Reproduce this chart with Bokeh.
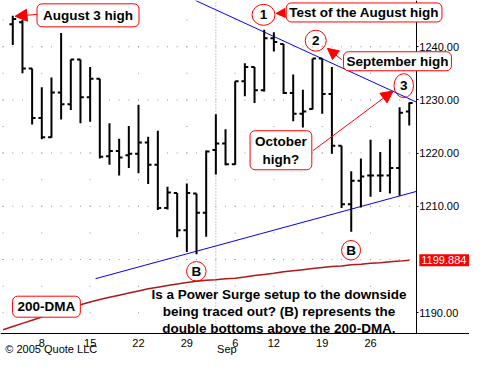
import numpy as np
from bokeh.plotting import figure
from bokeh.models import (Range1d, FixedTicker, NumeralTickFormatter, Label,
                          Arrow, NormalHead)
from bokeh.embed import file_html
from bokeh.resources import INLINE

# ---------------- data (S&P 500 daily, Aug 3 - Sep 30 2005) ----
dates = ["Aug 3", "Aug 4", "Aug 5", "Aug 8", "Aug 9", "Aug 10", "Aug 11", "Aug 12",
         "Aug 15", "Aug 16", "Aug 17", "Aug 18", "Aug 19", "Aug 22", "Aug 23",
         "Aug 24", "Aug 25", "Aug 26", "Aug 29", "Aug 30", "Aug 31", "Sep 1",
         "Sep 2", "Sep 6", "Sep 7", "Sep 8", "Sep 9", "Sep 12", "Sep 13", "Sep 14",
         "Sep 15", "Sep 16", "Sep 19", "Sep 20", "Sep 21", "Sep 22", "Sep 23",
         "Sep 26", "Sep 27", "Sep 28", "Sep 29", "Sep 30"]
opens = [1244.2, 1244.6, 1235.9, 1226.6, 1223.0, 1231.4, 1229.2, 1237.6, 1230.5,
         1234.0, 1219.4, 1220.4, 1219.6, 1219.9, 1222.0, 1217.8, 1209.7, 1212.5,
         1205.5, 1212.4, 1208.8, 1220.6, 1221.8, 1217.9, 1233.5, 1236.2, 1231.8,
         1241.6, 1240.5, 1231.3, 1227.4, 1228.3, 1237.8, 1231.1, 1221.4, 1210.4,
         1214.8, 1215.8, 1215.8, 1215.8, 1217.2, 1227.8]
highs = [1245.8, 1245.0, 1235.9, 1232.4, 1234.2, 1242.6, 1237.6, 1237.6, 1236.2,
         1234.0, 1225.6, 1222.7, 1225.1, 1229.1, 1223.1, 1224.2, 1213.7, 1212.5,
         1214.3, 1212.4, 1220.5, 1227.3, 1224.5, 1233.5, 1236.9, 1236.2, 1243.2,
         1242.7, 1240.5, 1234.8, 1231.9, 1237.8, 1237.8, 1236.2, 1221.4, 1216.6,
         1219.0, 1222.5, 1220.2, 1222.6, 1228.6, 1229.5]
lows = [1240.3, 1235.0, 1225.4, 1222.6, 1222.9, 1226.3, 1228.1, 1225.6, 1225.9,
        1219.0, 1217.8, 1215.8, 1217.2, 1216.2, 1214.2, 1209.3, 1209.4, 1204.2,
        1201.4, 1201.0, 1204.3, 1216.0, 1217.7, 1217.8, 1230.7, 1229.4, 1231.6,
        1239.1, 1231.1, 1226.0, 1224.8, 1228.2, 1227.4, 1219.9, 1209.7, 1205.2,
        1209.8, 1211.8, 1212.7, 1212.4, 1212.0, 1225.2]
closes = [1245.2, 1235.9, 1226.6, 1223.0, 1231.4, 1229.2, 1237.6, 1230.5, 1234.0,
          1219.3, 1220.4, 1219.2, 1219.9, 1222.0, 1217.8, 1209.7, 1212.6, 1205.5,
          1212.5, 1208.8, 1220.3, 1221.8, 1217.9, 1233.5, 1236.2, 1231.8, 1241.6,
          1240.9, 1231.3, 1227.4, 1227.8, 1237.8, 1231.1, 1221.4, 1210.4, 1214.8,
          1215.6, 1215.8, 1215.8, 1217.2, 1227.6, 1229.4]

# 200-day moving average (index -1 = Aug 2)
dma_idx = list(range(-1, 42))
dma = [1186.8, 1187.4, 1188.0, 1188.6, 1189.2, 1189.8, 1190.4, 1191.0, 1191.5,
       1192.0, 1192.5, 1192.9, 1193.3, 1193.7, 1194.1, 1194.5, 1194.8, 1195.1,
       1195.4, 1195.7, 1195.9, 1196.1, 1196.2, 1196.4, 1196.5, 1196.7, 1197.0,
       1197.2, 1197.4, 1197.7, 1197.9, 1198.1, 1198.3, 1198.5, 1198.7, 1198.8,
       1199.0, 1199.1, 1199.3, 1199.4, 1199.6, 1199.7, 1199.884]
last_dma = 1199.884

# trend lines (index, price)
upper_trend_x = [18.9, 41.73]
upper_trend_y = [1248.69, 1229.6]
lower_trend_x = [8.56, 41.73]
lower_trend_y = [1196.4, 1212.8]

week_idx = [3, 8, 13, 18, 23, 27, 32, 37]
week_labels = ["8", "15", "22", "29", "6", "12", "19", "26"]
month_idx = 21          # first trading day of September
month_label = "Sep"
price_ticks = [1190, 1210, 1220, 1230, 1240]
dense_levels = [1200, 1210, 1220, 1230, 1240]
sparse_levels = [1190, 1195, 1200, 1205, 1210, 1215, 1220, 1225, 1230, 1235, 1240, 1245]

# ---------------- layout helpers (reference pixel -> data) ----------------
def X(px):
    return (px - 12.7) / 10.0

def Y(py):
    return 1240 - (py - 48.3) / 5.56

PX1 = X(430)            # right edge of plot area (price axis)
PY0, PY1 = Y(348), Y(0)  # bottom / top of plot area

FONT = "Liberation Sans"
SMALL = "11px"

p = figure(width=469, height=355, output_backend="svg",
           toolbar_location=None, y_axis_location="right",
           x_range=Range1d(X(0), X(485)), y_range=Range1d(Y(371), Y(0)),
           min_border=0)
p.outline_line_color = None
p.background_fill_color = "white"
p.border_fill_color = "white"
p.xgrid.visible = False
p.ygrid.visible = False

# axes, drawn at the plot-area edges inside the canvas
p.yaxis.fixed_location = PX1
p.yaxis.bounds = (PY0, PY1)
p.yaxis.ticker = FixedTicker(ticks=price_ticks)
p.yaxis.formatter = NumeralTickFormatter(format="0.00")
p.yaxis.axis_line_color = "black"
p.yaxis.major_tick_out = 2
p.yaxis.major_tick_in = 0
p.yaxis.minor_tick_line_color = None
p.yaxis.major_label_standoff = 1
p.yaxis.major_label_text_font = FONT
p.yaxis.major_label_text_font_size = SMALL
p.yaxis.major_label_text_color = "black"

p.xaxis.fixed_location = PY0
p.xaxis.ticker = FixedTicker(ticks=week_idx)
p.xaxis.major_label_overrides = {i: s for i, s in zip(week_idx, week_labels)}
p.xaxis.axis_line_color = "black"
p.xaxis.major_tick_line_color = None
p.xaxis.minor_tick_line_color = None
p.xaxis.major_label_standoff = 0
p.xaxis.major_label_text_font = FONT
p.xaxis.major_label_text_font_size = SMALL
p.xaxis.major_label_text_color = "black"

# grid dots
gx, gy = [], []
for lv in dense_levels:
    for i in range(-1, 42):
        gx.append(i); gy.append(lv)
for lv in sparse_levels:
    for i in [-1] + week_idx:
        gx.append(i); gy.append(lv)
p.rect(gx, gy, width=1, height=1, width_units="screen", height_units="screen",
       fill_color="#9a9a9a", line_color=None)
p.segment(month_idx, PY0, month_idx, PY1, line_color="#9a9a9a",
          line_dash="1 2", line_width=1)

# trend lines and moving average
p.line(upper_trend_x, upper_trend_y, line_color="#0000FF", line_width=1)
p.line(lower_trend_x, lower_trend_y, line_color="#0000FF", line_width=1)
p.line(dma_idx, dma, line_color="#B01818", line_width=1.5)

# OHLC bars
idx = np.arange(len(dates))
p.segment(idx, lows, idx, highs, line_color="black", line_width=2)
p.segment(idx - 0.35, opens, idx, opens, line_color="black", line_width=2)
p.segment(idx, closes, idx + 0.35, closes, line_color="black", line_width=2)

# circles
cx = [X(272), X(326), X(417), X(202.5), X(362.5)]
cy = [Y(15), Y(42), Y(89), Y(283), Y(261)]
cw = [23, 21, 19.5, 19.5, 19]
ch = [21, 21, 24, 19.5, 19.5]
p.ellipse(cx, cy, width=cw, height=ch, width_units="screen", height_units="screen",
          fill_color=None, line_color="red", line_width=1)
for t, x, y in zip(["1", "2", "3", "B", "B"], cx, cy):
    p.add_layout(Label(x=x, y=y, text=t, text_align="center", text_baseline="middle",
                       text_font=FONT, text_font_style="bold",
                       text_font_size="13.5px", text_color="black"))

def box(text, px, py, pad):
    return Label(x=X(px), y=Y(py), text=text, text_align="center",
                 text_baseline="middle", text_font=FONT, text_font_style="bold",
                 text_font_size="13.5px", text_color="black",
                 background_fill_color="white", border_line_color="red",
                 border_line_width=1, border_radius=5, padding=pad)

def arrow(x0, y0, x1, y1, size):
    return Arrow(x_start=X(x0), y_start=Y(y0), x_end=X(x1), y_end=Y(y1),
                 line_color="red", line_width=1,
                 end=NormalHead(size=size, fill_color="red", line_color="red"))

p.add_layout(arrow(38, 14.5, 15, 16.5, 12))
p.add_layout(arrow(294, 13, 285, 13.5, 9))
p.add_layout(arrow(353, 62, 338, 50, 11))
p.add_layout(arrow(323, 157, 406, 94.5, 12))

p.add_layout(box("August 3 high", 90.5, 15.5, dict(left=6, right=6, top=4, bottom=4)))
p.add_layout(box("Test of the August high", 376, 12.5, dict(left=3, right=3, top=2, bottom=2)))
p.add_layout(box("September high", 410.5, 63.5, dict(left=3, right=3, top=2, bottom=2)))
p.add_layout(box("October\nhigh?", 290, 156.5, dict(left=5, right=5, top=3, bottom=3)))
p.add_layout(box("200-DMA", 47.5, 320, dict(left=5, right=5, top=3, bottom=3)))

# caption
p.add_layout(Label(x=X(288), y=Y(325),
                   text="Is a Power Surge setup to the downside\n"
                        "being traced out? (B) represents the\n"
                        "double bottoms above the 200-DMA.",
                   text_align="center", text_baseline="middle", text_font=FONT,
                   text_font_style="bold", text_font_size="13.5px",
                   text_color="black", text_line_height=1.13))

# last value of the moving average on the price axis
p.add_layout(Label(x=PX1, y=last_dma, x_offset=3, text=f"{last_dma:.3f}",
                   text_align="left", text_baseline="middle", text_font=FONT,
                   text_font_size=SMALL, text_color="white",
                   background_fill_color="#FF0000",
                   padding=dict(left=2, right=6, top=2, bottom=2)))

# bottom texts
p.add_layout(Label(x=X(224), y=Y(370), text=month_label, text_align="left",
                   text_baseline="bottom", text_font=FONT,
                   text_font_size=SMALL, text_color="black"))
p.add_layout(Label(x=X(5), y=Y(370), text="\u00a9 2005 Quote LLC", text_align="left",
                   text_baseline="bottom", text_font=FONT,
                   text_font_size=SMALL, text_color="black"))

open("out.html", "w").write(file_html(p, INLINE))
